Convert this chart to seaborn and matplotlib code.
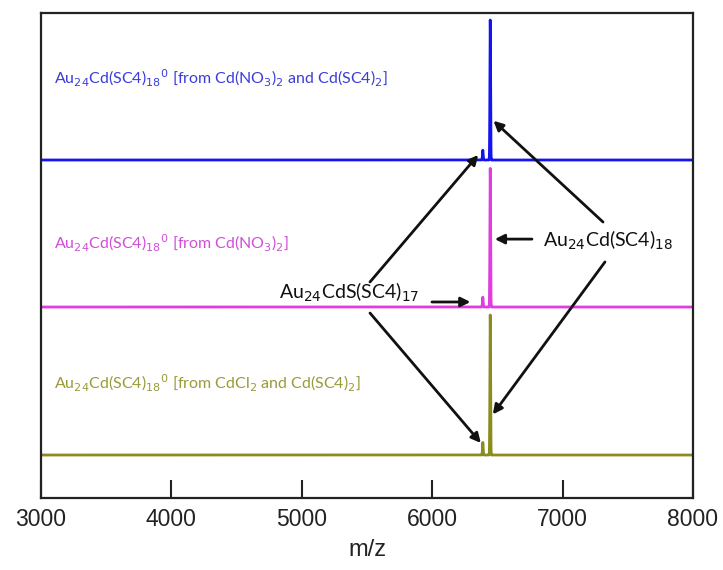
import numpy as np
import pandas as pd
import matplotlib
matplotlib.use("Agg")
import matplotlib.pyplot as plt
import seaborn as sns

# Spectra: baseline offset, main/side peak positions (m/z) and relative heights
series_names = ["CdCl2 + Cd(SC4)2", "Cd(NO3)2", "Cd(NO3)2 + Cd(SC4)2"]
series_offsets = [0.0, 1.057, 2.107]
series_colors = ["#8c8c1e", "#e03ce0", "#1414f0"]
label_colors = ["#9a9a3a", "#d04ed8", "#3c3cdc"]
peak_mz = [6388, 6445]
peak_heights = [
    [0.09, 1.00],
    [0.07, 0.99],
    [0.07, 1.00],
]
series_labels = [
    r"Au$_{24}$Cd(SC4)$_{18}$$^{0}$ [from CdCl$_{2}$ and Cd(SC4)$_{2}$]",
    r"Au$_{24}$Cd(SC4)$_{18}$$^{0}$ [from Cd(NO$_{3}$)$_{2}$]",
    r"Au$_{24}$Cd(SC4)$_{18}$$^{0}$ [from Cd(NO$_{3}$)$_{2}$ and Cd(SC4)$_{2}$]",
]
xticks = [3000, 4000, 5000, 6000, 7000, 8000]
xlabel = "m/z"
main_label = r"Au$_{24}$Cd(SC4)$_{18}$"
side_label = r"Au$_{24}$CdS(SC4)$_{17}$"

sns.set_theme(style="white")
plt.rcParams["font.family"] = ["Liberation Sans", "DejaVu Sans"]

fig = plt.figure(figsize=(7.23, 5.70), dpi=100)
ax = fig.add_axes([41 / 723, 1 - 498 / 570, 652 / 723, 485 / 570])

mz = np.arange(3000, 8001, 1.0)
sigma = 2.5
for name, off, col, hts in zip(series_names, series_offsets, series_colors, peak_heights):
    inten = np.zeros_like(mz)
    for p, h in zip(peak_mz, hts):
        inten += h * np.exp(-0.5 * ((mz - p) / sigma) ** 2)
    df = pd.DataFrame({"mz": mz, "y": inten + off})
    sns.lineplot(data=df, x="mz", y="y", ax=ax, color=col, lw=2.0,
                 estimator=None, sort=False)

ax.set_xlim(3000, 8000)
ax.set_ylim(-0.307, 3.157)
ax.set_xticks(xticks)
ax.set_xticklabels([str(t) for t in xticks], fontsize=16.5, color="#222222")
ax.set_yticks([])
ax.set_ylabel("")
ax.set_xlabel(xlabel, fontsize=17, color="#222222", labelpad=6)
ax.tick_params(axis="x", direction="in", length=13, width=1.5, color="#222222",
               pad=7, bottom=True, top=False)
for sp in ax.spines.values():
    sp.set_visible(True)
    sp.set_color("#222222")
    sp.set_linewidth(1.6)

# series labels
label_y = [(498 - 383) / 140 - 0.307, (498 - 243) / 140 - 0.307, (498 - 78) / 140 - 0.307]
for txt, ly, lc in zip(series_labels, label_y, label_colors):
    ax.text(3100, ly, txt, color=lc, fontsize=11.5, va="center", ha="left",
            family=["Lato", "DejaVu Sans"])

# species annotations
ax.text(6850, 1.53, main_label, fontsize=14, va="center", ha="left",
        color="#111111", family=["Lato", "DejaVu Sans"])
ax.text(4825, 1.16, side_label, fontsize=14, va="center", ha="left",
        color="#111111", family=["Lato", "DejaVu Sans"])

arrow_kw = dict(arrowstyle="-|>", lw=2.0, color="#111111", mutation_scale=14,
                shrinkA=0, shrinkB=0)
main_x = peak_mz[1]
side_x = peak_mz[0]
# main peak arrows
ax.annotate("", xy=(main_x + 25, series_offsets[2] + 0.28 * peak_heights[2][1]),
            xytext=(7310, 1.664), arrowprops=arrow_kw)
ax.annotate("", xy=(main_x + 35, series_offsets[1] + 0.49 * peak_heights[1][1]),
            xytext=(6765, series_offsets[1] + 0.49 * peak_heights[1][1]),
            arrowprops=arrow_kw)
ax.annotate("", xy=(main_x + 20, series_offsets[0] + 0.29 * peak_heights[0][1]),
            xytext=(7325, 1.379), arrowprops=arrow_kw)
# side peak arrows
ax.annotate("", xy=(side_x - 35, series_offsets[2] + 0.036),
            xytext=(5523, 1.236), arrowprops=arrow_kw)
ax.annotate("", xy=(side_x - 95, series_offsets[1] + 0.036),
            xytext=(5998, series_offsets[1] + 0.036), arrowprops=arrow_kw)
ax.annotate("", xy=(side_x - 15, series_offsets[0] + 0.086),
            xytext=(5523, 1.014), arrowprops=arrow_kw)

fig.savefig("out.png", dpi=100)
